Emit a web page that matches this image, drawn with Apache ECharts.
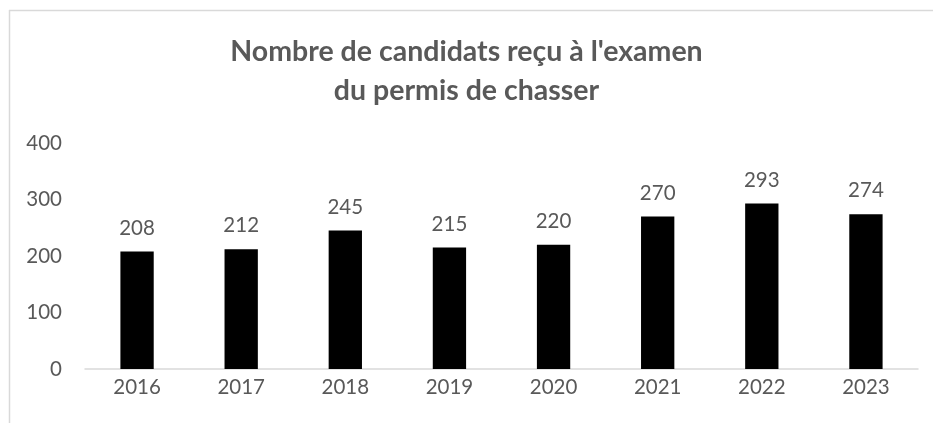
<!DOCTYPE html>
<html>
<head>
<meta charset="utf-8">
<script src="https://cdn.jsdelivr.net/npm/echarts@6/dist/echarts.min.js"></script>
<style>
  html, body { margin: 0; padding: 0; background: #fff; }
  #chart { width: 933px; height: 423px; }
</style>
</head>
<body>
<div id="chart"></div>
<script>
// donnees
var annees = ['2016', '2017', '2018', '2019', '2020', '2021', '2022', '2023'];
var candidats = [208, 212, 245, 215, 220, 270, 293, 274];
var titre = "Nombre de candidats reçu à l'examen\ndu permis de chasser";

var gris = '#595959';
var police = 'Lato, "Open Sans", sans-serif';

var chart = echarts.init(document.getElementById('chart'));

chart.setOption({
    animation: false,
    textStyle: { fontFamily: police },
    title: {
        text: titre,
        left: 'center',
        top: 27,
        textStyle: {
            color: gris,
            fontSize: 28.5,
            fontWeight: 'bold',
            lineHeight: 39,
            fontFamily: police
        }
    },
    // cadre du graphique (haut et gauche seulement visibles)
    graphic: [
        { type: 'line', shape: { x1: 9, y1: 10.5, x2: 933, y2: 10.5 }, style: { stroke: '#d9d9d9', lineWidth: 1.5 } },
        { type: 'line', shape: { x1: 9.5, y1: 10, x2: 9.5, y2: 423 }, style: { stroke: '#d9d9d9', lineWidth: 1.5 } }
    ],
    grid: { left: 85, right: 15, top: 143, bottom: 54 },
    xAxis: {
        type: 'category',
        data: annees,
        axisLine: { lineStyle: { color: '#d9d9d9', width: 1.5 } },
        axisTick: { show: false },
        axisLabel: { color: gris, fontSize: 20.5, margin: 8 }
    },
    yAxis: {
        type: 'value',
        min: 0,
        max: 400,
        interval: 100,
        splitLine: { show: false },
        axisLine: { show: false },
        axisTick: { show: false },
        axisLabel: { color: gris, fontSize: 20.5, margin: 23 }
    },
    series: [{
        type: 'bar',
        data: candidats,
        barWidth: '32%',
        itemStyle: { color: '#000' },
        label: {
            show: true,
            position: 'top',
            distance: 13,
            color: gris,
            fontSize: 20.5
        }
    }]
});
</script>
</body>
</html>
